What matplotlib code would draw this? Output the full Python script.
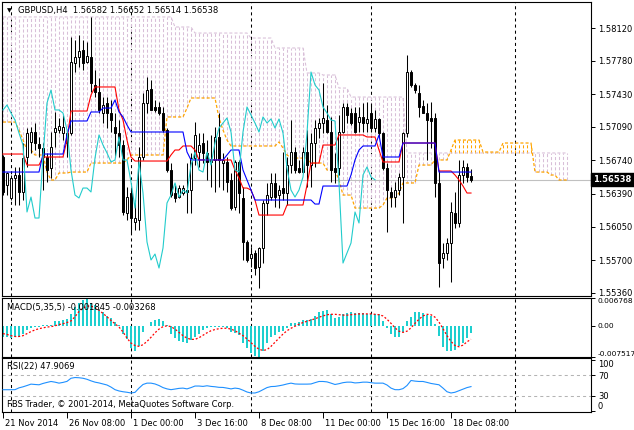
import matplotlib
matplotlib.use('Agg')
import matplotlib.pyplot as plt
import matplotlib.transforms as transforms
import numpy


# ========================== DATA ==========================
# GBPUSD H4 candles, one entry per bar
OPEN = [
    1.56776, 1.56484, 1.56348, 1.56557, 1.56588, 1.56411, 1.56776, 1.56933, 1.57037, 1.56912,
    1.56870, 1.56776, 1.56661, 1.57037, 1.57058, 1.57026, 1.57026, 1.57026, 1.57757, 1.57820,
    1.57893, 1.57768, 1.57820, 1.57528, 1.57455, 1.57235, 1.57340, 1.57235, 1.57089, 1.57026,
    1.56901, 1.56191, 1.56400, 1.56097, 1.56118, 1.56776, 1.57340, 1.57486, 1.57298, 1.57298,
    1.57235, 1.57058, 1.56640, 1.56400, 1.56358, 1.56400, 1.56431, 1.56431, 1.56765, 1.56828,
    1.56922, 1.56818, 1.56724, 1.56745, 1.56985, 1.56713, 1.56724, 1.56536, 1.56254, 1.56724,
    1.56348, 1.55889, 1.55721, 1.55774, 1.55628, 1.55826, 1.56296, 1.56358, 1.56505, 1.56379,
    1.56452, 1.56400, 1.56692, 1.56828, 1.56661, 1.56619, 1.56828, 1.56692, 1.56922, 1.57079,
    1.57131, 1.57162, 1.57037, 1.56661, 1.56661, 1.57037, 1.57298, 1.57235, 1.57235, 1.57141,
    1.57194, 1.57131, 1.57235, 1.57079, 1.57173, 1.57026, 1.56661, 1.56411, 1.56358, 1.56431,
    1.56567, 1.57026, 1.57663, 1.57528, 1.57444, 1.57308, 1.57235, 1.57183, 1.57183, 1.56505,
    1.55721, 1.55774, 1.55878, 1.56191, 1.56087, 1.56588, 1.56672, 1.56582,
]
HIGH = [
    1.56797, 1.56619, 1.56588, 1.56672, 1.56672, 1.56922, 1.57079, 1.57089, 1.57131, 1.56985,
    1.56922, 1.56818, 1.57037, 1.57246, 1.57183, 1.57214, 1.57037, 1.58029, 1.57997, 1.58050,
    1.57997, 1.57977, 1.58238, 1.57684, 1.57601, 1.57402, 1.57402, 1.57371, 1.57235, 1.57162,
    1.56953, 1.56463, 1.56463, 1.56327, 1.56880, 1.57444, 1.57611, 1.57580, 1.57371, 1.57350,
    1.57298, 1.57079, 1.56713, 1.56484, 1.56484, 1.56484, 1.56713, 1.56818, 1.57141, 1.57026,
    1.57026, 1.56953, 1.57006, 1.57089, 1.57235, 1.56818, 1.56776, 1.56609, 1.56745, 1.56745,
    1.56463, 1.55909, 1.55836, 1.55805, 1.55836, 1.56327, 1.56505, 1.56609, 1.56609, 1.56484,
    1.56828, 1.56776, 1.57162, 1.56880, 1.56745, 1.56880, 1.57058, 1.57026, 1.57162, 1.57183,
    1.57548, 1.57319, 1.57194, 1.56818, 1.57214, 1.57340, 1.57340, 1.57287, 1.57298, 1.57298,
    1.57340, 1.57350, 1.57340, 1.57267, 1.57183, 1.57037, 1.56713, 1.56463, 1.56515, 1.56609,
    1.57037, 1.57841, 1.57684, 1.57548, 1.57528, 1.57371, 1.57340, 1.57350, 1.57235, 1.56640,
    1.55878, 1.55930, 1.56306, 1.56411, 1.56745, 1.56745, 1.56713, 1.56652,
]
LOW = [
    1.56379, 1.56379, 1.56327, 1.56275, 1.56275, 1.56327, 1.56672, 1.56818, 1.56849, 1.56776,
    1.56431, 1.56515, 1.56557, 1.56880, 1.57026, 1.56953, 1.56776, 1.57006, 1.57663, 1.57716,
    1.57684, 1.57757, 1.57455, 1.57402, 1.57235, 1.57131, 1.57079, 1.57037, 1.56776, 1.56776,
    1.56170, 1.56118, 1.55982, 1.56014, 1.56014, 1.56745, 1.57235, 1.57267, 1.57246, 1.57214,
    1.57037, 1.56619, 1.56358, 1.56306, 1.56348, 1.56379, 1.56191, 1.56191, 1.56692, 1.56672,
    1.56713, 1.56536, 1.56463, 1.56411, 1.56463, 1.56431, 1.56411, 1.56223, 1.56223, 1.56191,
    1.55701, 1.55680, 1.55628, 1.55544, 1.55408, 1.55669, 1.56170, 1.56327, 1.56254, 1.56243,
    1.56327, 1.56275, 1.56609, 1.56609, 1.56609, 1.56609, 1.56463, 1.56463, 1.56672, 1.56974,
    1.57026, 1.57026, 1.56515, 1.56505, 1.56588, 1.57026, 1.57131, 1.57110, 1.57026, 1.57037,
    1.57037, 1.57037, 1.57037, 1.57037, 1.56985, 1.56640, 1.55993, 1.56254, 1.56254, 1.56379,
    1.56087, 1.56985, 1.57507, 1.57444, 1.57194, 1.57235, 1.56745, 1.56870, 1.56358, 1.55419,
    1.55617, 1.55701, 1.55471, 1.56035, 1.56045, 1.56505, 1.56515, 1.56514,
]
CLOSE = [
    1.56411, 1.56609, 1.56557, 1.56588, 1.56411, 1.56765, 1.57026, 1.57037, 1.56922, 1.56870,
    1.56776, 1.56640, 1.56880, 1.57079, 1.57100, 1.57089, 1.56922, 1.57768, 1.57820, 1.57883,
    1.57757, 1.57830, 1.57548, 1.57455, 1.57267, 1.57319, 1.57235, 1.57162, 1.57026, 1.56901,
    1.56202, 1.56358, 1.56139, 1.56139, 1.56776, 1.57340, 1.57475, 1.57267, 1.57267, 1.57235,
    1.57058, 1.56640, 1.56379, 1.56348, 1.56452, 1.56452, 1.56411, 1.56765, 1.57006, 1.56901,
    1.56818, 1.56724, 1.56745, 1.56985, 1.56745, 1.56745, 1.56515, 1.56243, 1.56724, 1.56400,
    1.55889, 1.55701, 1.55763, 1.55617, 1.55826, 1.56296, 1.56379, 1.56505, 1.56358, 1.56431,
    1.56400, 1.56692, 1.56828, 1.56640, 1.56619, 1.56828, 1.56692, 1.56922, 1.57079, 1.57131,
    1.57183, 1.57037, 1.56640, 1.56619, 1.57037, 1.57298, 1.57214, 1.57131, 1.57037, 1.57194,
    1.57131, 1.57173, 1.57079, 1.57173, 1.57026, 1.56661, 1.56431, 1.56358, 1.56431, 1.56567,
    1.57026, 1.57663, 1.57528, 1.57475, 1.57298, 1.57235, 1.57162, 1.57152, 1.56505, 1.55669,
    1.55774, 1.55878, 1.56202, 1.56087, 1.56588, 1.56672, 1.56567, 1.56538,
]

# Ichimoku lines as (first bar, level) steps
TENKAN_STEPS = [
    (0, 1.56807), (6, 1.56692), (10, 1.56776), (16, 1.56953), (17, 1.57256), (22, 1.57423),
    (23, 1.57507), (29, 1.57267), (30, 1.57162), (31, 1.56953), (32, 1.56776), (33, 1.56734),
    (42, 1.56797), (43, 1.56849), (45, 1.56891), (48, 1.56849), (49, 1.56745), (58, 1.56640),
    (59, 1.56557), (60, 1.56452), (62, 1.56431), (63, 1.56327), (64, 1.56170), (71, 1.56275),
    (76, 1.56484), (77, 1.56713), (80, 1.56901), (84, 1.57006), (91, 1.56985), (94, 1.56849),
    (95, 1.56724), (100, 1.56922), (109, 1.56630), (113, 1.56588), (114, 1.56536),
    (115, 1.56473), (116, 1.56400),
]
KIJUN_STEPS = [
    (0, 1.56619), (10, 1.56807), (16, 1.57006), (17, 1.57152), (22, 1.57246), (25, 1.57287),
    (28, 1.57371), (29, 1.57246), (30, 1.57194), (31, 1.57110), (32, 1.57037), (46, 1.56828),
    (47, 1.56745), (56, 1.56797), (57, 1.56849), (60, 1.56640), (61, 1.56536), (62, 1.56431),
    (63, 1.56327), (78, 1.56285), (80, 1.56473), (87, 1.56588), (88, 1.56745), (89, 1.56849),
    (90, 1.56891), (94, 1.57006), (95, 1.56776), (100, 1.56922), (109, 1.56619),
]
SENKOU_A_STEPS = [
    (0, 1.57141), (4, 1.57058), (5, 1.56953), (6, 1.56849), (8, 1.56797), (11, 1.56619),
    (12, 1.56536), (14, 1.56609), (17, 1.56619), (22, 1.56713), (31, 1.56745), (32, 1.56797),
    (41, 1.57194), (46, 1.57287), (47, 1.57392), (54, 1.57183), (55, 1.57058), (56, 1.56953),
    (57, 1.56891), (69, 1.56933), (70, 1.56870), (71, 1.56797), (72, 1.56765), (77, 1.56713),
    (81, 1.56640), (84, 1.56536), (85, 1.56379), (88, 1.56243), (95, 1.56275), (96, 1.56348),
    (99, 1.56400), (100, 1.56505), (104, 1.56692), (108, 1.56745), (112, 1.56849),
    (113, 1.56953), (120, 1.56828), (125, 1.56922), (133, 1.56619), (137, 1.56588),
    (139, 1.56536),
]
SENKOU_B_STEPS = [
    (0, 1.58238), (43, 1.58133), (48, 1.58070), (62, 1.58018), (68, 1.57914), (76, 1.57653),
    (80, 1.57632), (84, 1.57496), (87, 1.57402), (101, 1.56818),
]
CLOUD_BARS = 142       # the cloud runs ahead of the last candle
CHIKOU_SHIFT = 24      # lagging span drawn this many bars back

MACD_MAIN = [
    -0.0028, -0.0028, -0.0029, -0.0028, -0.0028, -0.0019, -0.0010, -0.0006, -0.0003, -0.0002,
    0.0001, 0.0003, 0.0003, 0.0011, 0.0011, 0.0013, 0.0016, 0.0029, 0.0046, 0.0055,
    0.0062, 0.0066, 0.0055, 0.0050, 0.0042, 0.0033, 0.0024, 0.0018, 0.0010, 0.0003,
    -0.0019, -0.0032, -0.0054, -0.0062, -0.0049, -0.0015, 0.0000, 0.0010, 0.0015, 0.0016,
    0.0011, 0.0003, -0.0019, -0.0030, -0.0036, -0.0039, -0.0041, -0.0035, -0.0028, -0.0019,
    -0.0010, -0.0006, -0.0004, -0.0004, -0.0003, -0.0004, -0.0006, -0.0015, -0.0018, -0.0023,
    -0.0041, -0.0054, -0.0065, -0.0074, -0.0075, -0.0062, -0.0043, -0.0028, -0.0023, -0.0016,
    -0.0012, -0.0006, 0.0007, 0.0007, 0.0010, 0.0013, 0.0014, 0.0016, 0.0024, 0.0033,
    0.0037, 0.0039, 0.0029, 0.0020, 0.0022, 0.0029, 0.0030, 0.0033, 0.0031, 0.0030,
    0.0030, 0.0029, 0.0029, 0.0029, 0.0029, 0.0011, -0.0006, -0.0019, -0.0028, -0.0028,
    -0.0015, 0.0011, 0.0022, 0.0033, 0.0033, 0.0030, 0.0027, 0.0024, 0.0004, -0.0025,
    -0.0051, -0.0062, -0.0062, -0.0058, -0.0049, -0.0041, -0.0030, -0.001845,
]
MACD_SIGNAL = [
    -0.0019, -0.0021, -0.0024, -0.0026, -0.0026, -0.0024, -0.0019, -0.0014, -0.0010, -0.0007,
    -0.0005, -0.0003, -0.0002, 0.0000, 0.0003, 0.0005, 0.0008, 0.0012, 0.0022, 0.0035,
    0.0043, 0.0048, 0.0048, 0.0044, 0.0038, 0.0030, 0.0022, 0.0013, 0.0005, -0.0003,
    -0.0015, -0.0030, -0.0042, -0.0048, -0.0050, -0.0046, -0.0038, -0.0028, -0.0017, -0.0008,
    -0.0002, 0.0000, -0.0002, -0.0008, -0.0016, -0.0024, -0.0030, -0.0033, -0.0033, -0.0029,
    -0.0023, -0.0017, -0.0012, -0.0009, -0.0007, -0.0006, -0.0006, -0.0008, -0.0012, -0.0018,
    -0.0024, -0.0032, -0.0041, -0.0050, -0.0057, -0.0060, -0.0058, -0.0050, -0.0040, -0.0030,
    -0.0020, -0.0012, -0.0006, -0.0001, 0.0004, 0.0008, 0.0011, 0.0014, 0.0017, 0.0021,
    0.0024, 0.0027, 0.0028, 0.0028, 0.0027, 0.0026, 0.0026, 0.0027, 0.0028, 0.0029,
    0.0029, 0.0029, 0.0029, 0.0028, 0.0027, 0.0024, 0.0016, 0.0006, -0.0005, -0.0013,
    -0.0016, -0.0013, -0.0005, 0.0006, 0.0016, 0.0024, 0.0028, 0.0027, 0.0021, 0.0009,
    -0.0007, -0.0024, -0.0038, -0.0048, -0.0051, -0.0047, -0.0039, -0.003268,
]
RSI_VALUES = [
    41.9, 41.9, 41.9, 42.0, 45.5, 47.5, 50.0, 52.7, 52.0, 51.4,
    54.0, 56.0, 57.8, 56.5, 54.6, 56.0, 58.0, 64.0, 65.4, 65.0,
    64.0, 62.0, 59.0, 56.5, 55.0, 53.0, 51.0, 47.0, 42.0, 39.5,
    38.0, 37.0, 35.6, 36.8, 45.0, 52.0, 54.6, 54.6, 53.0, 50.0,
    46.0, 43.5, 42.0, 43.2, 44.5, 45.0, 43.5, 46.0, 49.0, 49.0,
    48.3, 49.5, 48.3, 47.6, 46.5, 46.3, 45.0, 43.5, 45.0, 44.0,
    41.0, 37.5, 35.6, 35.6, 38.0, 42.0, 46.0, 48.0, 48.3, 49.5,
    51.0, 53.0, 54.6, 53.0, 52.7, 52.7, 52.7, 53.0, 55.5, 57.8,
    57.8, 57.0, 54.6, 52.0, 53.5, 55.5, 56.5, 56.5, 55.0, 55.5,
    56.5, 56.5, 55.5, 54.6, 54.6, 54.6, 51.0, 45.0, 42.0, 41.9,
    44.0, 50.0, 59.7, 58.5, 57.8, 57.8, 56.0, 54.0, 52.7, 51.4,
    45.0, 38.0, 35.6, 37.0, 40.0, 43.0, 46.0, 47.9069,
]

PRICE_TICKS = [1.58120, 1.57780, 1.57430, 1.57090, 1.56740, 1.56390, 1.56050, 1.55700, 1.55360]
MACD_TICKS = [0.006768, 0.0, -0.007517]
MACD_TICK_LABELS = ['0.006768', '0.00', '-0.007517']
RSI_TICKS = [100, 70, 30, 0]
TIME_TICK_BARS = [0, 16, 32, 48, 64, 80, 96, 112]
TIME_TICK_LABELS = ['21 Nov 2014', '26 Nov 08:00', '1 Dec 00:00', '3 Dec 16:00',
                    '8 Dec 08:00', '11 Dec 00:00', '15 Dec 16:00', '18 Dec 08:00']
GRID_BARS = [2, 32, 62, 92, 128]
# ===========================================================

W_PX, H_PX = 634, 430
X_LIMITS = (-0.25, 147.0)

COLORS = {
    'tenkan': '#FF0000',
    'kijun': '#0000FF',
    'chikou': '#22CCCC',
    'senkou_a': '#FFA500',
    'senkou_b': '#D8BFD8',
    'macd': '#1ECFCF',
    'signal': '#FF0000',
    'rsi': '#1E90FF',
    'level': '#B4B4B4',
    'price_line': '#C0C0C0',
}

plt.rcParams['font.family'] = 'DejaVu Sans'
plt.rcParams['font.size'] = 6
plt.rcParams['lines.scale_dashes'] = False


def expand_steps(steps, length):
    values = numpy.empty(length)
    for i, (start, level) in enumerate(steps):
        end = steps[i + 1][0] if i + 1 < len(steps) else length
        values[start:end] = level
    return values


def add_pane(fig, top_px, bottom_px):
    ax = fig.add_axes([2 / W_PX, 1 - bottom_px / H_PX, 589 / W_PX, (bottom_px - top_px) / H_PX])
    ax.set_xlim(*X_LIMITS)
    for spine in ax.spines.values():
        spine.set_linewidth(0.8)
        spine.set_color('black')
    ax.yaxis.tick_right()
    ax.tick_params(axis='y', direction='out', length=3, width=0.7, pad=2, labelsize=6)
    ax.tick_params(axis='x', bottom=False, labelbottom=False)
    for bar in GRID_BARS:
        ax.axvline(bar, color='black', linestyle=(0, (2.2, 2.2)), linewidth=0.75, zorder=0.5)
    return ax


def draw_main(ax):
    bars = numpy.arange(len(CLOSE))
    opens = numpy.array(OPEN)
    closes = numpy.array(CLOSE)

    # cloud hatching, one dotted stroke per bar
    span_a = expand_steps(SENKOU_A_STEPS, CLOUD_BARS)
    span_b = expand_steps(SENKOU_B_STEPS, CLOUD_BARS)
    cloud_x = numpy.arange(CLOUD_BARS)
    hatch_colors = [COLORS['senkou_a'] if a > b else COLORS['senkou_b'] for a, b in zip(span_a, span_b)]
    ax.vlines(cloud_x, numpy.minimum(span_a, span_b), numpy.maximum(span_a, span_b),
              colors=hatch_colors, linestyles=(0, (2.2, 1.5)), linewidth=0.75, zorder=1)
    ax.plot(cloud_x, span_b, color=COLORS['senkou_b'], linestyle=(0, (2.2, 1.5)), linewidth=0.75, zorder=1.5)
    ax.plot(cloud_x, span_a, color=COLORS['senkou_a'], linestyle=(0, (2.2, 1.5)), linewidth=0.9, zorder=1.5)

    ax.axhline(CLOSE[-1], color=COLORS['price_line'], linewidth=0.8, zorder=1.2)

    # candles
    ax.vlines(bars, LOW, HIGH, color='black', linewidth=0.75, zorder=3)
    rising = closes >= opens
    body_low = numpy.minimum(opens, closes)
    body_height = numpy.maximum(numpy.abs(closes - opens), 0.00002)
    ax.bar(bars, body_height, bottom=body_low, width=0.55,
           color=numpy.where(rising, 'white', 'black'), edgecolor='black', linewidth=0.7, zorder=4)

    # ichimoku lines
    ax.plot(bars, expand_steps(TENKAN_STEPS, len(CLOSE)), color=COLORS['tenkan'], linewidth=0.8, zorder=5)
    ax.plot(bars, expand_steps(KIJUN_STEPS, len(CLOSE)), color=COLORS['kijun'], linewidth=0.8, zorder=5)
    ax.plot(bars[:-CHIKOU_SHIFT], closes[CHIKOU_SHIFT:], color=COLORS['chikou'], linewidth=0.8, zorder=5)

    ax.set_ylim(1.55325, 1.58394)
    ax.set_yticks(PRICE_TICKS)
    ax.set_yticklabels([f'{t:.5f}' for t in PRICE_TICKS])

    # current price tag on the scale
    tag = transforms.blended_transform_factory(ax.transAxes, ax.transData)
    ax.text(1.004, CLOSE[-1], f'{CLOSE[-1]:.5f}', transform=tag, color='white', fontsize=6,
            fontweight='bold', va='center', ha='left', clip_on=False,
            bbox=dict(boxstyle='square,pad=0.25', fc='black', ec='black'))


def draw_macd(ax):
    bars = numpy.arange(len(MACD_MAIN))
    ax.bar(bars, MACD_MAIN, width=0.7, color=COLORS['macd'], linewidth=0, zorder=2)
    ax.plot(bars, MACD_SIGNAL, color=COLORS['signal'], linestyle=(0, (1.4, 1.4)), linewidth=0.9, zorder=3)
    ax.set_ylim(-0.007517, 0.006768)
    ax.set_yticks(MACD_TICKS)
    labels = ax.set_yticklabels(MACD_TICK_LABELS)
    ax.tick_params(axis='y', labelsize=5.4, pad=1.5)
    labels[0].set_verticalalignment('top')
    labels[-1].set_verticalalignment('bottom')


def draw_rsi(ax):
    bars = numpy.arange(len(RSI_VALUES))
    for level in (70, 30):
        ax.axhline(level, color=COLORS['level'], linestyle=(0, (2.2, 2.2)), linewidth=0.75, zorder=1)
    ax.plot(bars, RSI_VALUES, color=COLORS['rsi'], linewidth=0.8, zorder=3)
    ax.set_ylim(-0.5, 102.5)
    ax.set_yticks(RSI_TICKS)
    labels = ax.set_yticklabels([str(t) for t in RSI_TICKS])
    labels[0].set_verticalalignment('top')
    labels[-1].set_verticalalignment('bottom')

    ax.tick_params(axis='x', bottom=True, labelbottom=True, direction='out', length=4,
                   width=0.7, pad=1.5, labelsize=6)
    ax.set_xticks(TIME_TICK_BARS)
    ax.set_xticklabels(TIME_TICK_LABELS)
    shift = transforms.ScaledTranslation(2 / 100, 0, ax.figure.dpi_scale_trans)
    for label in ax.get_xticklabels():
        label.set_horizontalalignment('left')
        label.set_transform(label.get_transform() + shift)


def draw():
    fig = plt.figure(figsize=(W_PX / 100, H_PX / 100), dpi=100)
    fig.patch.set_facecolor('white')

    main_ax = add_pane(fig, 2, 296)
    macd_ax = add_pane(fig, 298, 356.7)
    rsi_ax = add_pane(fig, 358.3, 411.7)

    draw_main(main_ax)
    draw_macd(macd_ax)
    draw_rsi(rsi_ax)

    fig.text(7 / W_PX, 1 - 11 / H_PX, '\u25BC', fontsize=4.5, va='center', ha='left')
    fig.text(18 / W_PX, 1 - 11 / H_PX,
             f'GBPUSD,H4  {OPEN[-1]:.5f} {HIGH[-1]:.5f} {LOW[-1]:.5f} {CLOSE[-1]:.5f}',
             fontsize=6, va='center', ha='left')
    fig.text(7 / W_PX, 1 - 307.5 / H_PX,
             f'MACD(5,35,5) {MACD_MAIN[-1]:.6f} {MACD_SIGNAL[-1]:.6f}',
             fontsize=6, va='center', ha='left', zorder=10)
    fig.text(7 / W_PX, 1 - 366.5 / H_PX, f'RSI(22) {RSI_VALUES[-1]:.4f}',
             fontsize=6, va='center', ha='left', zorder=10)
    fig.text(7 / W_PX, 1 - 404.5 / H_PX, 'FBS Trader, \u00A9 2001-2014, MetaQuotes Software Corp.',
             fontsize=6, va='center', ha='left', zorder=10)

    fig.savefig('out.png', dpi=100)


if __name__ == '__main__':
    draw()
